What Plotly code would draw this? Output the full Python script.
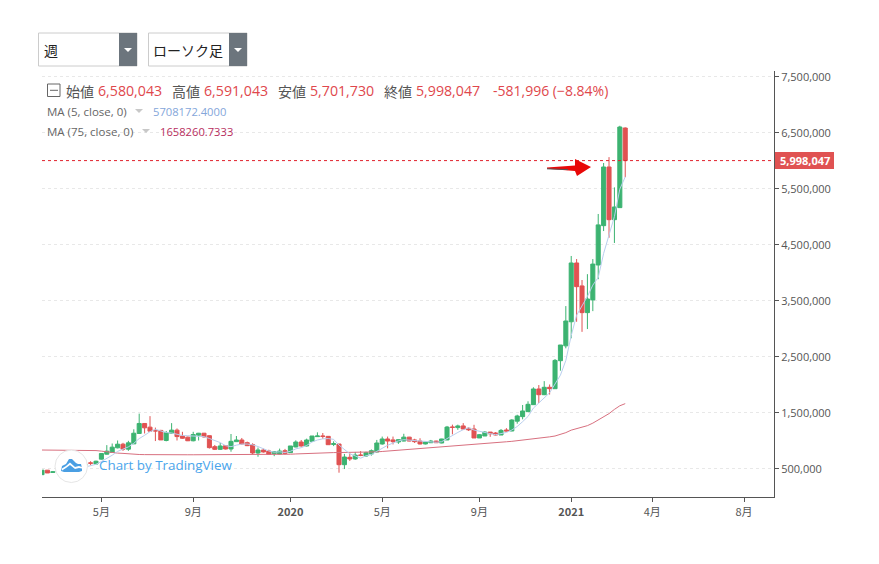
import plotly.graph_objects as go

W, H = 879, 564
L, R, T, B = 42, 774, 71, 497
PAGE_INSET = 8  # default body margin of the written page

# weekly bars, prices in millions of yen
weeks = list(range(109))
opens = [.39,.47,.43,.44,.46,.47,.50,.52,.55,.60,.58,.667,.756,.786,.869,.934,.845,.94,1.125,1.304,
         1.238,1.18,1.18,1.0,1.13,1.185,1.08,1.06,.995,1.095,1.13,1.086,.89,.842,.908,.848,.979,1.009,.961,.926,
         .777,.83,.813,.765,.759,.818,.783,.884,.973,.902,.985,1.069,1.08,1.074,.93,.937,.568,.70,.67,.74,
         .723,.759,.795,.938,1.027,1.01,.973,.99,1.06,1.01,.99,.938,.96,.99,.955,1.01,1.24,1.23,1.26,1.218,
         1.205,1.045,1.08,1.15,1.134,1.098,1.188,1.17,1.345,1.426,1.515,1.64,1.92,1.818,1.95,1.925,2.425,2.69,3.12,4.17,
         3.76,3.283,3.51,4.134,4.836,5.884,4.943,5.158,6.580043]
highs = [.47,.47,.45,.47,.49,.51,.53,.56,.59,.63,.64,.768,.917,.946,1.0,.958,.994,1.2,1.48,1.304,
         1.435,1.23,1.19,1.17,1.31,1.215,1.155,1.07,1.155,1.135,1.135,1.09,.92,.955,.915,1.116,1.08,1.045,.98,.95,
         .875,.855,.835,.805,.855,.85,.902,1.003,1.009,1.033,1.08,1.146,1.134,1.08,.985,.937,.76,.77,.795,.81,
         .80,.84,1.01,1.07,1.07,1.07,1.02,1.12,1.065,1.03,1.04,.98,1.01,.995,1.03,1.26,1.283,1.283,1.31,1.235,
         1.28,1.116,1.165,1.15,1.15,1.205,1.22,1.38,1.46,1.634,1.70,1.95,1.99,2.06,2.0,2.455,2.705,3.4,4.295,4.24,
         3.866,3.97,4.24,5.045,5.955,6.06,5.52,6.62,6.591043]
lows = [.39,.42,.42,.43,.45,.46,.49,.51,.54,.56,.58,.66,.75,.78,.86,.815,.815,.94,1.12,1.125,
        1.16,.99,1.01,.985,1.125,1.0,1.03,.99,.985,1.0,1.05,.857,.83,.83,.84,.80,.975,.93,.90,.755,
        .71,.785,.75,.72,.755,.75,.778,.88,.89,.895,.98,1.069,1.03,.925,.90,.425,.49,.635,.655,.72,
        .71,.73,.79,.925,.86,.93,.94,.985,.985,.955,.93,.93,.955,.955,.95,1.005,1.11,1.19,1.19,1.17,
        1.045,1.045,1.08,1.065,1.09,1.098,1.165,1.165,1.30,1.378,1.51,1.635,1.67,1.81,1.82,1.925,2.247,2.646,2.825,3.12,
        2.94,2.99,3.31,3.88,4.74,4.62,4.527,5.158,5.70173]
closes = [.47,.42,.44,.46,.47,.50,.52,.55,.58,.595,.63,.768,.81,.881,.934,.845,.958,1.13,1.304,1.226,
          1.167,1.17,1.01,1.14,1.185,1.07,1.04,.995,1.107,1.13,1.065,.872,.842,.902,.848,.985,1.009,.937,.908,.777,
          .83,.795,.753,.80,.812,.77,.902,.973,.902,1.009,1.08,1.08,1.074,.925,.943,.568,.705,.67,.74,.735,
          .783,.818,.955,1.027,.99,.979,1.015,1.06,.99,.979,.938,.973,.99,.96,1.027,1.24,1.235,1.26,1.205,1.19,
          1.045,1.104,1.15,1.12,1.098,1.18,1.17,1.366,1.438,1.527,1.646,1.92,1.818,1.95,1.925,2.43,2.705,3.134,4.17,3.747,
          3.283,3.527,4.15,4.85,5.884,4.943,5.17,6.598,5.998047]

ma5_weeks = list(range(4, 109))
ma5 = [.452,.458,.478,.50,.524,.549,.575,.625,.677,.737,.805,.848,.886,.95,1.034,1.093,1.157,1.199,1.175,1.143,
       1.134,1.115,1.089,1.086,1.079,1.068,1.068,1.035,1.004,.963,.907,.89,.917,.936,.937,.923,.892,.849,.813,.791,
       .798,.786,.807,.851,.872,.911,.973,1.009,1.029,1.034,1.02,.918,.843,.762,.725,.684,.727,.749,.806,.864,
       .915,.954,.993,1.014,1.007,1.005,.996,.988,.974,.968,.978,1.038,1.09,1.144,1.193,1.226,1.187,1.161,1.139,1.122,
       1.103,1.13,1.144,1.187,1.25,1.336,1.429,1.579,1.67,1.772,1.852,2.009,2.166,2.429,2.873,3.237,3.408,3.572,3.775,3.911,
       4.339,4.671,4.999,5.489,5.708172]
ma75 = [.83,.83,.83,.83,.83,.83,.83,.83,.828,.825,.82,.81,.795,.785,.775,.77,.76,.755,.75,.748,
        .746,.745,.745,.745,.745,.745,.745,.745,.745,.745,.745,.745,.746,.746,.746,.747,.747,.747,.748,.748,
        .748,.749,.749,.75,.75,.752,.755,.76,.765,.77,.775,.78,.782,.783,.784,.785,.785,.786,.787,.788,
        .789,.79,.797,.804,.811,.818,.825,.833,.84,.847,.854,.861,.868,.875,.882,.89,.897,.905,.913,.921,
        .929,.937,.945,.953,.961,.969,.977,.985,.995,1.01,1.027,1.035,1.045,1.055,1.065,1.08,1.105,1.14,1.185,1.215,
        1.24,1.265,1.31,1.365,1.42,1.48,1.555,1.62,1.658261]

last_close = 5998047
y_ticks = [500000, 1500000, 2500000, 3500000, 4500000, 5500000, 6500000, 7500000]
x_tick_weeks = [11, 28, 46, 63, 81, 98, 113, 130]
x_tick_labels = ["5月", "9月", "<b>2020</b>", "5月", "9月", "<b>2021</b>", "4月", "8月"]

GREEN = "#3CB371"
RED = "#E05252"
FONT = "Open Sans, Noto Sans CJK JP, sans-serif"
JP = "Noto Sans CJK JP, sans-serif"
GREY = "#555555"


def to_yen(vals):
    return [v * 1000000 for v in vals]


def px(x):
    return (x - L) / (R - L)


def py(y):
    return (B - y) / (B - T)


def paper_path(points):
    return "M" + " L".join(f"{px(x):.5f},{py(y):.5f}" for x, y in points) + " Z"


fig = go.Figure()

fig.add_trace(go.Scatter(x=weeks, y=to_yen(ma75), mode="lines", line=dict(color="#D8707F", width=1), hoverinfo="skip"))
fig.add_trace(go.Scatter(x=ma5_weeks, y=to_yen(ma5), mode="lines", line=dict(color="#B9CFEE", width=1), hoverinfo="skip"))
fig.add_trace(go.Candlestick(
    x=weeks, open=to_yen(opens), high=to_yen(highs), low=to_yen(lows), close=to_yen(closes),
    increasing=dict(line=dict(color=GREEN, width=1), fillcolor=GREEN),
    decreasing=dict(line=dict(color=RED, width=1), fillcolor=RED),
    whiskerwidth=0,
))

fig.update_xaxes(
    range=[0, 135.55], type="linear", rangeslider_visible=False, showgrid=False, zeroline=False,
    showline=True, linecolor=GREY, linewidth=1, ticks="outside", ticklen=4, tickcolor=GREY,
    tickvals=x_tick_weeks, ticktext=x_tick_labels, tickfont=dict(family=JP, size=11, color=GREY),
    ticklabelstandoff=1,
)
fig.update_yaxes(
    range=[-9000, 7598000], side="right", showgrid=True, gridcolor="#E8E8E8", griddash="dot", gridwidth=1,
    zeroline=False, showline=True, linecolor=GREY, linewidth=1, ticks="outside", ticklen=4, tickcolor=GREY,
    tickvals=y_ticks, tickformat=",d", tickfont=dict(family=FONT, size=11, color=GREY),
    ticklabelshift=1,
)

shapes = [
    # last price line
    dict(type="line", xref="paper", x0=0, x1=1, yref="y", y0=last_close, y1=last_close,
         line=dict(color="#E0202C", width=1, dash="dot"), layer="above"),
    # arrow
    dict(type="path", xref="paper", yref="paper", layer="above", fillcolor="#E80808", line=dict(width=0),
         path=paper_path([(547, 167.4), (575, 165.5), (575, 159), (591, 167), (577, 176), (575, 171), (547, 168.8)])),
    dict(type="line", xref="paper", yref="paper", x0=px(547), x1=px(568), y0=py(168.8), y1=py(169.6), layer="above",
         line=dict(color="#555555", width=1)),
    # legend toggle
    dict(type="rect", xref="paper", yref="paper", x0=px(47.5), x1=px(60), y0=py(84), y1=py(96.5),
         line=dict(color="#666666", width=1), fillcolor="white", layer="above"),
    dict(type="line", xref="paper", yref="paper", x0=px(50), x1=px(58), y0=py(90.3), y1=py(90.3),
         line=dict(color="#666666", width=1), layer="above"),
    # MA carets
    dict(type="path", xref="paper", yref="paper", layer="above", fillcolor="#C8C8C8", line=dict(width=0),
         path=paper_path([(135, 109), (143, 109), (139, 113)])),
    dict(type="path", xref="paper", yref="paper", layer="above", fillcolor="#C8C8C8", line=dict(width=0),
         path=paper_path([(142, 129), (150, 129), (146, 133)])),
    # TradingView badge
    dict(type="circle", xref="paper", yref="paper", x0=px(55), x1=px(87.5), y0=py(450), y1=py(482.5),
         fillcolor="white", line=dict(color="#E6E6E6", width=1), layer="above"),
    dict(type="path", xref="paper", yref="paper", layer="above", fillcolor="#4A9FE3", line=dict(width=0),
         path=paper_path([(61, 471), (62, 466), (66, 464), (69, 459), (72, 459), (76, 463), (78, 464), (81, 464),
                          (82, 468), (82, 471), (79, 472), (64, 472)])),
    dict(type="path", xref="paper", yref="paper", layer="above", fillcolor="white", line=dict(width=0),
         path=paper_path([(62, 468.5), (66, 466), (70, 462.5), (75, 467), (79, 466), (82, 467), (82, 468.5),
                          (79, 468), (75, 469), (70, 465), (66, 468), (62, 470.5)])),
    # edge of the page
    dict(type="line", xref="paper", yref="paper", x0=px(878.5), x1=px(878.5), y0=py(0), y1=py(564),
         line=dict(color="#EEEEEE", width=1), layer="above"),
]

# period and chart type selectors
for x0, x1 in [(38.5, 137), (148.5, 247)]:
    shapes.append(dict(type="rect", xref="paper", yref="paper", x0=px(x0), x1=px(x1), y0=py(33), y1=py(66),
                       line=dict(color="#CCCCCC", width=1), fillcolor="white", layer="above"))
    shapes.append(dict(type="rect", xref="paper", yref="paper", x0=px(x1 - 18), x1=px(x1), y0=py(33), y1=py(66),
                       line=dict(width=0), fillcolor="#6C757D", layer="above"))
    shapes.append(dict(type="path", xref="paper", yref="paper", layer="above", fillcolor="white", line=dict(width=0),
                       path=paper_path([(x1 - 13, 48), (x1 - 5, 48), (x1 - 9, 52)])))
fig.update_layout(shapes=shapes)


def label(x, y, text, color=GREY, size=14, family=JP, **kw):
    fig.add_annotation(xref="paper", yref="paper", x=px(x), y=py(y), text=text, showarrow=False, xanchor="left",
                       yanchor="middle", font=dict(family=family, size=size, color=color), borderpad=0, **kw)


label(43, 49.5, "週", color="#222222")
label(152, 49.5, "ローソク足", color="#222222")

legend_red = "#E0474C"
label(65, 90.5, "始値")
label(96.5, 90.5, "6,580,043", color=legend_red, size=14.2, family=FONT)
label(171, 90.5, "高値")
label(202.5, 90.5, "6,591,043", color=legend_red, size=14.2, family=FONT)
label(277, 90.5, "安値")
label(308.5, 90.5, "5,701,730", color=legend_red, size=14.2, family=FONT)
label(383, 90.5, "終値")
label(414.5, 90.5, "5,998,047", color=legend_red, size=14.2, family=FONT)
label(492, 90.5, "-581,996 (−8.84%)", color=legend_red, family=FONT)

label(46, 111, "MA (5, close, 0)", color="#666666", size=11.5, family=FONT)
label(151.5, 111, "5708172.4000", color="#84A6DA", size=11.2, family=FONT)
label(46, 131, "MA (75, close, 0)", color="#666666", size=11.5, family=FONT)
label(158.5, 131, "1658260.7333", color="#B82E5E", size=11.2, family=FONT)

label(98, 465, "Chart by TradingView", color="#4AA5EC", size=13.4, family=FONT)

# last price tag
fig.add_shape(type="rect", xref="paper", yref="paper", x0=px(775), x1=px(834), y0=py(152), y1=py(169),
              fillcolor=RED, line=dict(width=0), layer="above")
fig.add_annotation(xref="paper", yref="paper", x=px(804.5), y=py(160.5), text="<b>5,998,047</b>", showarrow=False,
                   xanchor="center", yanchor="middle", font=dict(family=FONT, size=11, color="white"))

fig.update_layout(
    width=W - PAGE_INSET, height=H - PAGE_INSET,
    margin=dict(l=L - PAGE_INSET, r=W - R, t=T - PAGE_INSET, b=H - B, pad=0),
    plot_bgcolor="white", paper_bgcolor="white", showlegend=False,
    boxgap=0.25, boxgroupgap=0,
)

fig.write_html("out.html")
